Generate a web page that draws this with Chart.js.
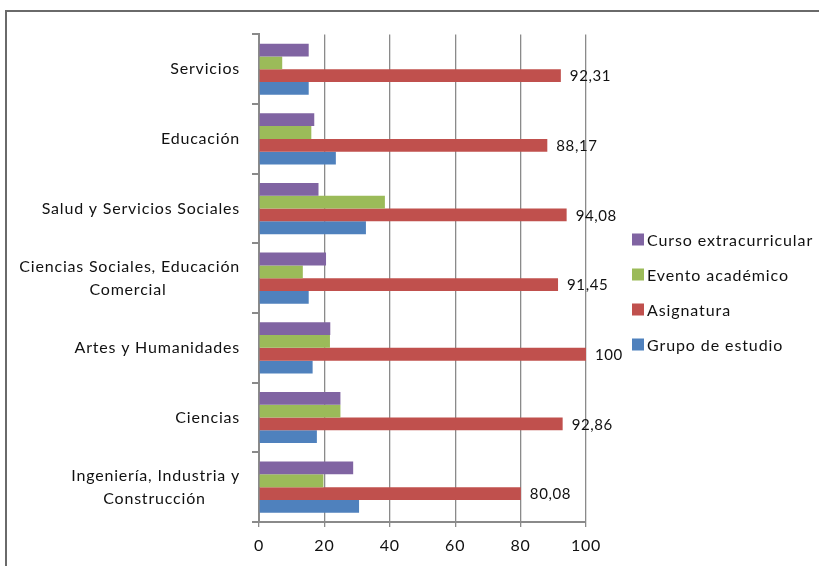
<!DOCTYPE html>
<html>
<head>
<meta charset="utf-8">
<script src="https://cdn.jsdelivr.net/npm/chart.js@4"></script>
<style>
  html, body { margin: 0; padding: 0; background: #ffffff; }
  #wrap { width: 819px; height: 566px; position: relative; }
</style>
</head>
<body>
<div id="wrap"><canvas id="c" width="819" height="566"></canvas></div>
<script>
// ---- Data ----
const categories = [
  ['Servicios'],
  ['Educación'],
  ['Salud y Servicios Sociales'],
  ['Ciencias Sociales, Educación', 'Comercial'],
  ['Artes y Humanidades'],
  ['Ciencias'],
  ['Ingeniería, Industria y', 'Construcción']
];
const seriesNames = ['Curso extracurricular', 'Evento académico', 'Asignatura', 'Grupo de estudio'];
const cursoExtracurricular = [15.2, 16.9, 18.2, 20.5, 21.8, 24.9, 28.8];
const eventoAcademico      = [7.1, 16.0, 38.5, 13.4, 21.7, 24.9, 19.7];
const asignatura           = [92.31, 88.17, 94.08, 91.45, 100, 92.86, 80.08];
const grupoEstudio         = [15.2, 23.5, 32.7, 15.2, 16.4, 17.7, 30.6];
const xTicks = [0, 20, 40, 60, 80, 100];

// ---- Styles ----
const colors = ['#8064A2', '#9BBB59', '#C0504D', '#4F81BD'];
const FONT = 'Lato';
const SPACING = '0.8px';
const axisGray = '#8a8a8a';

const measureCtx = document.createElement('canvas').getContext('2d');
measureCtx.font = '16px ' + FONT;
measureCtx.letterSpacing = SPACING;
function centerLines(lines) {
  if (lines.length < 2) return lines[0];
  const widths = lines.map(l => measureCtx.measureText(l).width);
  const maxW = Math.max(...widths);
  const sp = measureCtx.measureText(' ').width;
  return lines.map((l, i) => l + ' '.repeat(Math.round((maxW - widths[i]) / 2 / sp)));
}

const formatVal = v => (Number.isInteger(v) ? String(v) : v.toFixed(2).replace('.', ','));

const frame = {
  id: 'frame',
  beforeDraw(chart) {
    const ctx = chart.ctx;
    ctx.save();
    ctx.fillStyle = '#ffffff';
    ctx.fillRect(0, 0, chart.width, chart.height);
    ctx.strokeStyle = '#6a6a6a';
    ctx.lineWidth = 2;
    ctx.strokeRect(6, 11, 1000, 1000);
    ctx.restore();
    ctx.letterSpacing = SPACING;
  }
};

const valueLabels = {
  id: 'valueLabels',
  afterDatasetsDraw(chart) {
    const ctx = chart.ctx;
    const meta = chart.getDatasetMeta(2);
    ctx.save();
    ctx.font = '15px ' + FONT;
    ctx.letterSpacing = '0.6px';
    ctx.fillStyle = '#111111';
    ctx.textAlign = 'left';
    ctx.textBaseline = 'middle';
    meta.data.forEach((el, i) => {
      ctx.fillText(formatVal(chart.data.datasets[2].data[i]), el.x + 9, el.y + 1);
    });
    ctx.restore();
  }
};

const sideLegend = {
  id: 'sideLegend',
  afterDraw(chart) {
    const ctx = chart.ctx;
    ctx.save();
    ctx.font = '16px ' + FONT;
    ctx.letterSpacing = '0.9px';
    ctx.textBaseline = 'middle';
    ctx.textAlign = 'left';
    const x0 = 632, y0 = 239.5, step = 35, box = 12;
    chart.data.datasets.forEach((ds, i) => {
      const y = y0 + i * step;
      ctx.fillStyle = ds.backgroundColor;
      ctx.fillRect(x0, y - box / 2, box, box);
      ctx.fillStyle = '#111111';
      ctx.fillText(ds.label, x0 + 15, y + 1);
    });
    ctx.restore();
  }
};

const data = {
  labels: categories,
  datasets: [
    { label: seriesNames[0], data: cursoExtracurricular, backgroundColor: colors[0] },
    { label: seriesNames[1], data: eventoAcademico, backgroundColor: colors[1] },
    { label: seriesNames[2], data: asignatura, backgroundColor: colors[2] },
    { label: seriesNames[3], data: grupoEstudio, backgroundColor: colors[3] }
  ]
};

new Chart(document.getElementById('c'), {
  type: 'bar',
  data,
  plugins: [frame, valueLabels, sideLegend],
  options: {
    responsive: false,
    animation: false,
    indexAxis: 'y',
    layout: { padding: { left: 0, top: 33, right: 233, bottom: 0 } },
    datasets: { bar: { barPercentage: 1, categoryPercentage: 0.735, borderWidth: 0 } },
    plugins: { legend: { display: false }, tooltip: { enabled: false } },
    scales: {
      x: {
        min: 0, max: 100,
        afterBuildTicks: s => { s.ticks = xTicks.map(v => ({ value: v })); },
        afterFit: s => { s.height = 44; },
        grid: { color: axisGray, lineWidth: 1.3, tickLength: 5, drawTicks: true },
        border: { color: axisGray, width: 2 },
        ticks: { font: { family: FONT, size: 16 }, color: '#111111', padding: 9 }
      },
      y: {
        afterFit: s => { s.width = 259; },
        grid: { offset: true, drawOnChartArea: false, drawTicks: true, tickLength: 7, color: axisGray, lineWidth: 2 },
        border: { color: axisGray, width: 2 },
        ticks: {
          font: { family: FONT, size: 16, lineHeight: 1.4 },
          color: '#111111',
          padding: 12,
          callback: function (value) { return centerLines(this.getLabelForValue(value)); }
        }
      }
    }
  }
});
</script>
</body>
</html>
